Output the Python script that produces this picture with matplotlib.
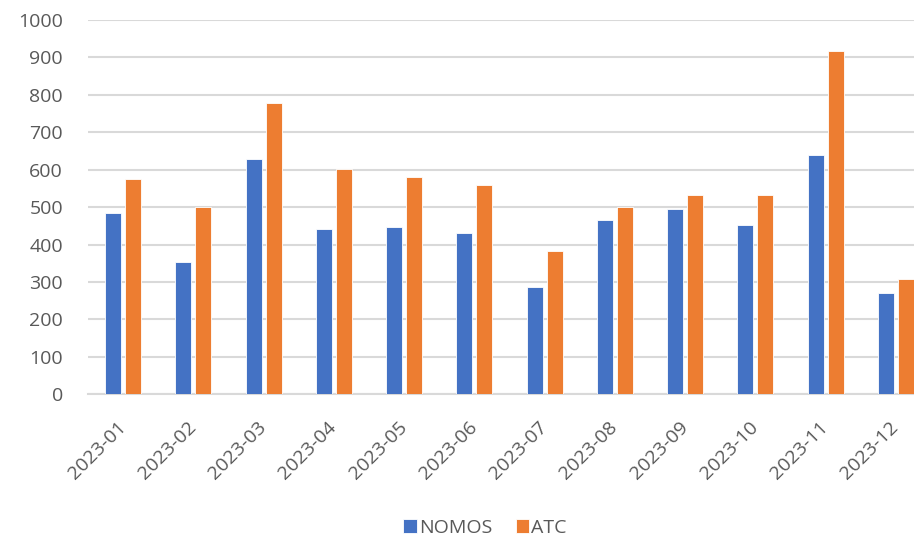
import matplotlib
matplotlib.use("Agg")
import matplotlib.pyplot as plt
import numpy as np

months = ["2023-01", "2023-02", "2023-03", "2023-04", "2023-05", "2023-06",
          "2023-07", "2023-08", "2023-09", "2023-10", "2023-11", "2023-12"]
nomos = [484, 354, 628, 441, 446, 430, 286, 467, 495, 451, 638, 270]
atc = [574, 500, 777, 601, 580, 558, 382, 500, 532, 532, 917, 307]
yticks = [0, 100, 200, 300, 400, 500, 600, 700, 800, 900, 1000]

plt.rcParams['font.family'] = ['Open Sans', 'DejaVu Sans']

W, H = 914, 539
fig = plt.figure(figsize=(W / 100, H / 100), dpi=100)
left, right = 88, 931
bottom, top = 394.3, 20
ax = fig.add_axes([left / W, (H - bottom) / H, (right - left) / W, (bottom - top) / H])

x = np.arange(len(months))
bw = 0.228
off = 0.144
ax.bar(x - off, nomos, bw, color="#4472C4", edgecolor="white", linewidth=0.6, label="NOMOS", zorder=3)
ax.bar(x + off, atc, bw, color="#ED7D31", edgecolor="white", linewidth=0.6, label="ATC", zorder=3)

ax.set_xlim(-0.5, len(months) - 0.5)
ax.set_ylim(0, 1000)
ax.set_yticks(yticks)
ax.yaxis.grid(True, color="#d9d9d9", linewidth=1.5, zorder=0)
ax.set_axisbelow(True)
for s in ["top", "right", "left"]:
    ax.spines[s].set_visible(False)
ax.spines["bottom"].set_color("#d9d9d9")
ax.spines["bottom"].set_linewidth(1.5)

ax.tick_params(axis="y", length=0, pad=18, labelsize=14, labelcolor="#595959")
ax.tick_params(axis="x", length=0, pad=22, labelsize=14, labelcolor="#595959")
ax.set_xticks(x)
ax.set_xticklabels(months, rotation=45, ha="right", va="center", rotation_mode="anchor")

fig.legend(loc="center", bbox_to_anchor=(485 / W, 1 - 528 / H), ncol=2, frameon=False,
           fontsize=14, handlelength=0.7, handleheight=0.7, handletextpad=0.1,
           columnspacing=1.2, labelcolor="#595959")

fig.savefig("out.png", dpi=100)
